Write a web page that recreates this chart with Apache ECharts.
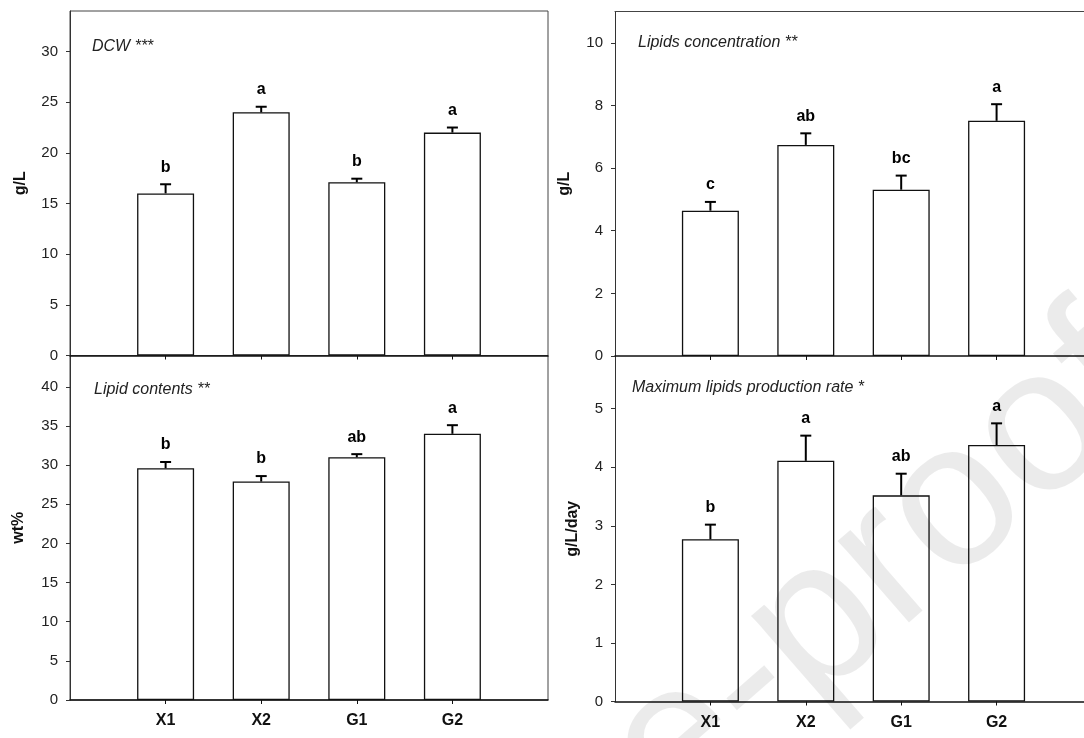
<!DOCTYPE html>
<html>
<head>
<meta charset="utf-8">
<script src="https://cdn.jsdelivr.net/npm/echarts@6/dist/echarts.min.js"></script>
<style>
  html, body { margin: 0; padding: 0; background: #fff; }
  #chart { width: 1084px; height: 738px; }
</style>
</head>
<body>
<div id="chart"></div>
<script>
// groups on the x axis (placed at 1..4 on a 0..5 scale)
const categories = ['X1', 'X2', 'G1', 'G2']

// DCW (g/L)
const dcw = [16.0, 24.0, 17.1, 22.0]
const dcwErr = [0.9, 0.55, 0.35, 0.5]
const dcwLetters = ['b', 'a', 'b', 'a']
const dcwTicks = [0, 5, 10, 15, 20, 25, 30]

// Lipids concentration (g/L)
const lipidConc = [4.64, 6.74, 5.31, 7.51]
const lipidConcErr = [0.28, 0.37, 0.45, 0.53]
const lipidConcLetters = ['c', 'ab', 'bc', 'a']
const lipidConcTicks = [0, 2, 4, 6, 8, 10]

// Lipid contents (wt%)
const lipidCont = [29.6, 27.9, 31.0, 34.0]
const lipidContErr = [0.8, 0.7, 0.4, 1.1]
const lipidContLetters = ['b', 'b', 'ab', 'a']
const lipidContTicks = [0, 5, 10, 15, 20, 25, 30, 35, 40]

// Maximum lipids production rate (g/L/day)
const prodRate = [2.77, 4.11, 3.52, 4.38]
const prodRateErr = [0.25, 0.43, 0.37, 0.37]
const prodRateLetters = ['b', 'a', 'ab', 'a']
const prodRateTicks = [0, 1, 2, 3, 4, 5]

const FONT = '"Liberation Sans", Arial, sans-serif'
// the right-hand panels run past the page edge, so they get a shorter grid with the same scale
const unitPx = 478 / 5
const rightW = 470

const panels = [
  {title: 'DCW ***', unit: 'g/L', vals: dcw, errs: dcwErr, letters: dcwLetters, ticks: dcwTicks, max: 34,
   grid: {left: 70, top: 11, width: 478, height: 344.5}, box: true, xMax: 5, showX: false, nameGap: 41, titlePos: [92, 47]},
  {title: 'Lipids concentration **', unit: 'g/L', vals: lipidConc, errs: lipidConcErr, letters: lipidConcLetters, ticks: lipidConcTicks, max: 11,
   grid: {left: 615, top: 11.5, width: rightW, height: 344.5}, box: false, xMax: rightW / unitPx, showX: false, nameGap: 42, titlePos: [638, 43]},
  {title: 'Lipid contents **', unit: 'wt%', vals: lipidCont, errs: lipidContErr, letters: lipidContLetters, ticks: lipidContTicks, max: 44,
   grid: {left: 70, top: 355.5, width: 478, height: 344.5}, box: true, xMax: 5, showX: true, nameGap: 43, titlePos: [94, 390]},
  {title: 'Maximum lipids production rate *', unit: 'g/L/day', vals: prodRate, errs: prodRateErr, letters: prodRateLetters, ticks: prodRateTicks, max: 5.9,
   grid: {left: 615, top: 356, width: rightW, height: 345.5}, box: false, xMax: rightW / unitPx, showX: true, nameGap: 34, titlePos: [632, 388]}
]

function errorBars(letters) {
  return function (params, api) {
    const x = api.value(0), v = api.value(1), e = api.value(2)
    const p0 = api.coord([x, v])
    const p1 = api.coord([x, v + e])
    return {
      type: 'group',
      children: [
        {type: 'line', shape: {x1: p0[0], y1: p0[1], x2: p1[0], y2: p1[1]}, style: {stroke: '#000', lineWidth: 2}},
        {type: 'line', shape: {x1: p1[0] - 5.5, y1: p1[1], x2: p1[0] + 5.5, y2: p1[1]}, style: {stroke: '#000', lineWidth: 2}},
        {type: 'text', x: p1[0], y: p1[1] - 9,
         style: {text: letters[params.dataIndex], font: 'bold 16px ' + FONT, fill: '#000', align: 'center', verticalAlign: 'bottom'}}
      ]
    }
  }
}

const xAxes = panels.map((p, i) => ({
  type: 'value', gridIndex: i, min: 0, max: p.xMax,
  splitLine: {show: false},
  axisLine: {show: true, lineStyle: {color: '#111', width: 1.5}},
  axisTick: {show: true, customValues: [1, 2, 3, 4], length: 4, lineStyle: {color: '#111'}},
  axisLabel: {show: p.showX, customValues: [1, 2, 3, 4], formatter: v => categories[v - 1] || '',
              margin: 13, fontFamily: FONT, fontSize: 16, fontWeight: 'bold', color: '#111'}
}))
// top frame line of the upper right panel
xAxes.push({
  type: 'value', gridIndex: 1, position: 'top', min: 0, max: rightW / unitPx,
  splitLine: {show: false}, axisTick: {show: false}, axisLabel: {show: false},
  axisLine: {show: true, lineStyle: {color: '#444', width: 1}}
})

const option = {
  animation: false,
  backgroundColor: '#fff',
  grid: panels.map(p => Object.assign({show: p.box, borderColor: '#444', borderWidth: 1, backgroundColor: 'transparent'}, p.grid)),
  xAxis: xAxes,
  yAxis: panels.map((p, i) => ({
    type: 'value', gridIndex: i, min: 0, max: p.max,
    name: p.unit, nameLocation: 'middle', nameGap: p.nameGap, nameRotate: 90,
    nameTextStyle: {fontFamily: FONT, fontSize: 16, fontWeight: 'bold', color: '#111'},
    splitLine: {show: false},
    axisLine: {show: true, lineStyle: {color: '#333', width: 1}},
    axisTick: {show: true, customValues: p.ticks, length: 4, lineStyle: {color: '#333'}},
    axisLabel: {customValues: p.ticks, margin: 12, fontFamily: FONT, fontSize: 15, color: '#222'}
  })),
  series: panels.flatMap((p, i) => [
    {
      type: 'bar', xAxisIndex: i, yAxisIndex: i, barWidth: 57,
      data: p.vals.map((v, k) => [k + 1, v]),
      itemStyle: {color: '#fff', borderColor: '#111', borderWidth: 1.3},
      silent: true
    },
    {
      type: 'custom', xAxisIndex: i, yAxisIndex: i, z: 5,
      data: p.vals.map((v, k) => [k + 1, v, p.errs[k]]),
      encode: {x: 0, y: 1},
      renderItem: errorBars(p.letters),
      silent: true
    }
  ]),
  graphic: panels.map(p => ({
    type: 'text', x: p.titlePos[0], y: p.titlePos[1], silent: true,
    style: {text: p.title, font: 'italic 16px ' + FONT, fill: '#222', verticalAlign: 'middle'}
  })).concat([{
    // journal watermark
    type: 'text', x: 1205, y: 290, rotation: 41 * Math.PI / 180, z: 100, silent: true,
    style: {text: 'Journal Pre-proofs', font: '205px ' + FONT, fill: 'rgba(0,0,0,0.08)', align: 'right', verticalAlign: 'middle'}
  }])
}

const chart = echarts.init(document.getElementById('chart'))
chart.setOption(option)
</script>
</body>
</html>
